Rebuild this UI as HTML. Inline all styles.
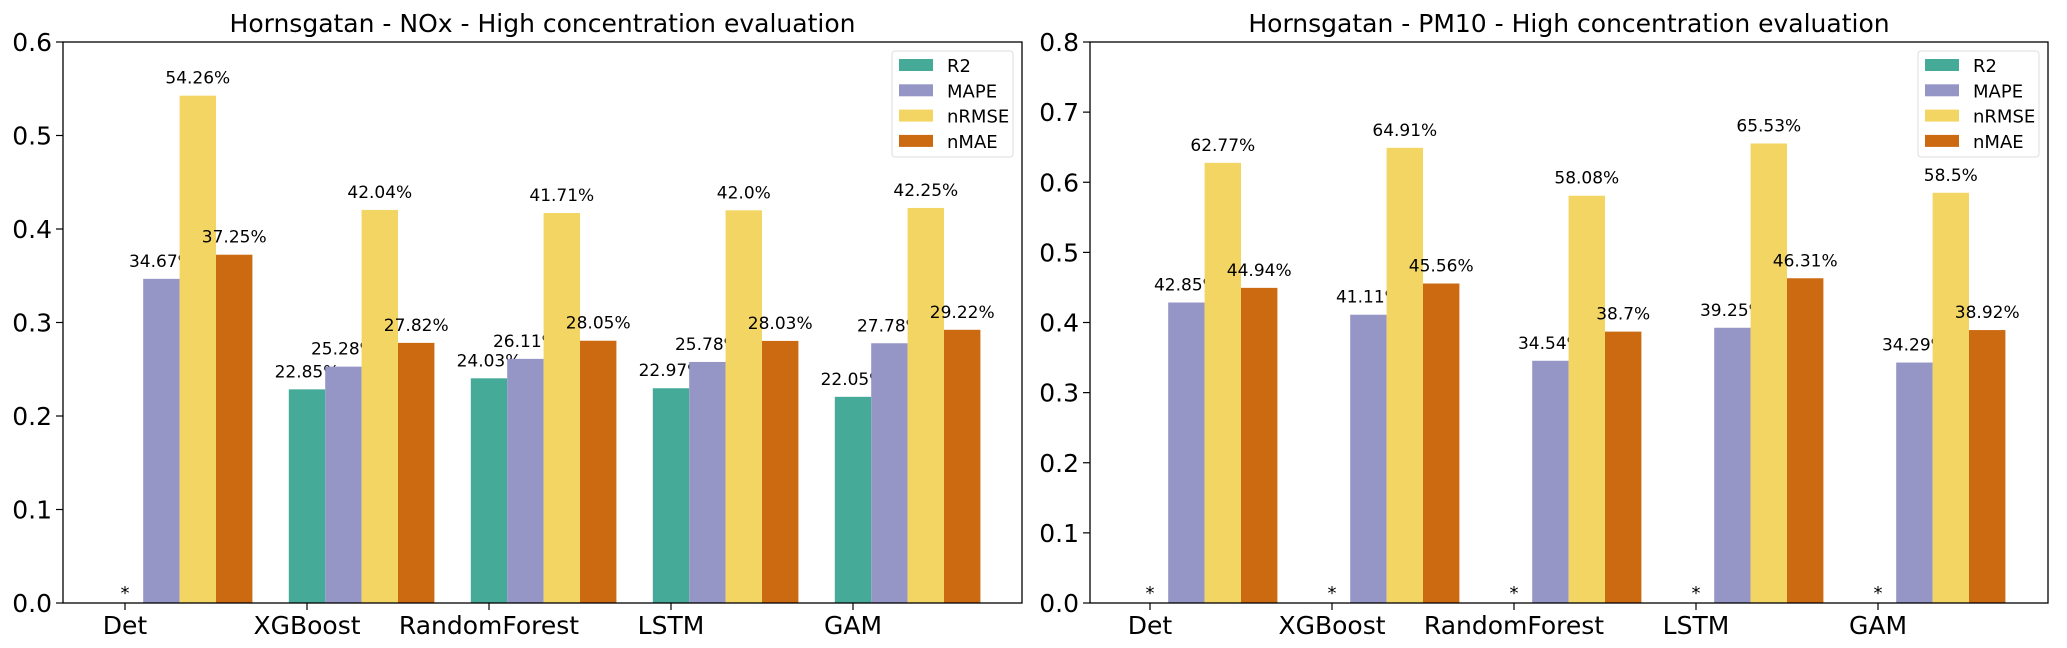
<!DOCTYPE html>
<html><head><meta charset="utf-8"><style>
html,body{margin:0;padding:0;background:#fff;}
svg{display:block;font-family:"DejaVu Sans","Liberation Sans",sans-serif;}
</style></head><body>
<svg id="svg" width="2067" height="648" xmlns="http://www.w3.org/2000/svg"></svg>
<script>
const categories = ["Det","XGBoost","RandomForest","LSTM","GAM"];
const seriesNames = ["R2","MAPE","nRMSE","nMAE"];
const noxR2 = [0,0.2285,0.2403,0.2297,0.2205];
const noxMAPE = [0.3467,0.2528,0.2611,0.2578,0.2778];
const noxNRMSE = [0.5426,0.4204,0.4171,0.42,0.4225];
const noxNMAE = [0.3725,0.2782,0.2805,0.2803,0.2922];
const noxR2Labels = ["*","22.85%","24.03%","22.97%","22.05%"];
const noxMAPELabels = ["34.67%","25.28%","26.11%","25.78%","27.78%"];
const noxNRMSELabels = ["54.26%","42.04%","41.71%","42.0%","42.25%"];
const noxNMAELabels = ["37.25%","27.82%","28.05%","28.03%","29.22%"];
const pmR2 = [0,0,0,0,0];
const pmMAPE = [0.4285,0.4111,0.3454,0.3925,0.3429];
const pmNRMSE = [0.6277,0.6491,0.5808,0.6553,0.585];
const pmNMAE = [0.4494,0.4556,0.387,0.4631,0.3892];
const pmR2Labels = ["*","*","*","*","*"];
const pmMAPELabels = ["42.85%","41.11%","34.54%","39.25%","34.29%"];
const pmNRMSELabels = ["62.77%","64.91%","58.08%","65.53%","58.5%"];
const pmNMAELabels = ["44.94%","45.56%","38.7%","46.31%","38.92%"];
const noxTicks = [0,0.1,0.2,0.3,0.4,0.5,0.6];
const pmTicks = [0,0.1,0.2,0.3,0.4,0.5,0.6,0.7,0.8];

const colors = ["#45aa98","#9595c6","#f3d563","#cb6a10"];
const NS = "http://www.w3.org/2000/svg";
const svg = document.getElementById("svg");
function mk(tag, attrs, parent, text){
  const e = document.createElementNS(NS, tag);
  for (const k in attrs) e.setAttribute(k, attrs[k]);
  if (text !== undefined) e.textContent = text;
  (parent||svg).appendChild(e);
  return e;
}
function drawPanel(p){
  const g = mk("g", {});
  
  
  const top = 42, bottom = 603;
  const y = v => bottom - (v / p.ymax) * (bottom - top);
  const x = i => p.x0 + i * 182;
  const bw = 36.4;
  p.series.forEach((vals, s) => {
    vals.forEach((v, i) => {
      const cx = x(i) + s * bw;
      if (v > 0) {
        const r = mk("rect", {x: cx - bw/2, y: y(v), width: bw, height: bottom - y(v), fill: colors[s]}, g);
        
        
      }
      const lbl = p.labels[s][i];
      const t = mk("text", {x: cx, y: (lbl === "*" ? bottom - 4 : y(v) - 12), "text-anchor": "middle", "font-size": lbl === "*" ? 18 : 17, fill: "#000"}, g, lbl);
      
      
    });
  });
  const fr = mk("rect", {x: p.left, y: top, width: p.right - p.left, height: bottom - top, fill: "none", stroke: "#000", "stroke-width": 1.3}, g);
  
  
  p.ticks.forEach(tv => {
    mk("line", {x1: p.left - 7, x2: p.left, y1: y(tv), y2: y(tv), stroke: "#000", "stroke-width": 1.2}, g);
    const t = mk("text", {x: p.left - 11, y: y(tv) + 9, "text-anchor": "end", "font-size": 25}, g, tv.toFixed(1));
    
    
  });
  categories.forEach((c, i) => {
    mk("line", {x1: x(i), x2: x(i), y1: bottom, y2: bottom + 7, stroke: "#000", "stroke-width": 1.2}, g);
    const t = mk("text", {x: x(i), y: bottom + 31, "text-anchor": "middle", "font-size": 25}, g, c);
    
    
  });
  const tt = mk("text", {x: (p.left + p.right)/2, y: 32, "text-anchor": "middle", "font-size": 25}, g, p.title);
  
  
  const lg = mk("g", {}, g);
  
  
  const lx = p.right - 130;
  mk("rect", {x: lx, y: 51, width: 121, height: 106, rx: 3, fill: "#fff", stroke: "#ddd", "stroke-width": 1}, lg);
  seriesNames.forEach((n, s) => {
    const cy = 65 + s * 25.3;
    const e = mk("g", {}, lg);
    
    
    mk("rect", {x: lx + 7, y: cy - 6, width: 34, height: 12, fill: colors[s]}, e);
    mk("text", {x: lx + 55, y: cy + 7, "font-size": 18}, e, n);
  });
}
drawPanel({name: "nox-panel", left: 63, right: 1022, x0: 125, ymax: 0.6, ticks: noxTicks,
  series: [noxR2, noxMAPE, noxNRMSE, noxNMAE], labels: [noxR2Labels, noxMAPELabels, noxNRMSELabels, noxNMAELabels],
  title: "Hornsgatan - NOx - High concentration evaluation"});
drawPanel({name: "pm10-panel", left: 1090, right: 2048, x0: 1150, ymax: 0.8, ticks: pmTicks,
  series: [pmR2, pmMAPE, pmNRMSE, pmNMAE], labels: [pmR2Labels, pmMAPELabels, pmNRMSELabels, pmNMAELabels],
  title: "Hornsgatan - PM10 - High concentration evaluation"});
</script>
</body></html>
